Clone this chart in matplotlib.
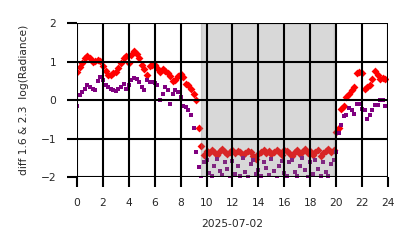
import numpy as np
import matplotlib
matplotlib.use('Agg')
import matplotlib.pyplot as plt

# sample times (hours on 2025-07-02), one every 12 minutes
hours = np.arange(0, 24, 0.2)

diff_red = [
    0.72, 0.87, 0.95, 1.08, 1.15, 1.08, 1.00, 1.02, 1.05, 1.02,
    0.88, 0.75, 0.64, 0.66, 0.70, 0.74, 0.82, 0.95, 1.10, 1.15,
    0.95, 1.18, 1.28, 1.20, 1.08, 0.92, 0.80, 0.65, 0.88, 0.90,
    0.90, 0.82, 0.74, 0.80, 0.76, 0.70, 0.62, 0.50, 0.52, 0.62,
    0.68, 0.60, 0.42, 0.38, 0.30, 0.15, 0.00, -0.72, -1.20, -1.42,
    -1.32, -1.38, -1.30, -1.36, -1.42, -1.33, -1.28, -1.35, -1.40, -1.34,
    -1.30, -1.38, -1.33, -1.36, -1.42, -1.38, -1.31, -1.36, -1.44, -1.52,
    -1.40, -1.35, -1.30, -1.38, -1.33, -1.41, -1.36, -1.29, -1.35, -1.42,
    -1.30, -1.33, -1.38, -1.45, -1.36, -1.30, -1.40, -1.34, -1.28, -1.38,
    -1.33, -1.42, -1.36, -1.30, -1.44, -1.38, -1.32, -1.28, -1.36, -1.30,
    -0.82, -0.72, -0.22, -0.15, 0.08, 0.15, 0.27, 0.33, 0.70, 0.74,
    0.70, 0.30, 0.35, 0.40, 0.55, 0.75, 0.65, 0.55, 0.57, 0.56,
]

diff_purple = [
    -0.16, 0.13, 0.20, 0.30, 0.40, 0.35, 0.30, 0.26, 0.50, 0.60,
    0.52, 0.40, 0.35, 0.30, 0.26, 0.24, 0.28, 0.35, 0.42, 0.30,
    0.38, 0.52, 0.58, 0.56, 0.48, 0.35, 0.26, 0.52, 0.48, 0.46,
    0.45, 0.38, 0.00, 0.17, 0.33, 0.26, -0.09, 0.17, 0.25, 0.22,
    0.09, -0.15, -0.18, -0.25, -0.40, -0.72, -1.34, -1.73, -2.05, -1.60,
    -1.55, -1.90, -1.98, -1.72, -1.52, -1.85, -1.95, -1.62, -1.80, -2.02,
    -1.58, -1.92, -1.70, -1.96, -1.50, -1.88, -2.00, -1.65, -1.55, -1.93,
    -1.82, -1.98, -1.60, -1.76, -1.95, -1.52, -1.85, -2.02, -1.70, -1.58,
    -1.90, -1.98, -1.62, -1.55, -1.88, -1.96, -1.72, -1.50, -1.82, -2.00,
    -1.60, -1.92, -1.55, -1.78, -1.97, -1.62, -1.86, -1.98, -1.66, -1.55,
    -1.35, -0.85, -0.65, -0.42, -0.38, -0.20, -0.26, -0.35, -0.10, -0.09,
    -0.22, -0.25, -0.48, -0.40, -0.25, -0.12, -0.12, 0.00, 0.00, -0.15,
]

night_start, night_end = 9.55, 19.85

fig = plt.figure(figsize=(4.14, 2.48), dpi=100)
ax = fig.add_axes([0.186, 0.286, 0.751, 0.621])

ax.scatter(hours, diff_red, marker='D', s=16, color='red', linewidths=0, zorder=1)
ax.scatter(hours, diff_purple, marker='s', s=6, color='purple', linewidths=0, zorder=1)
ax.axvspan(night_start, night_end, color='gray', alpha=0.3, zorder=1)

ax.set_xlim(0, 24)
ax.set_ylim(-2, 2)
ax.set_xticks(range(0, 25, 2))
ax.set_yticks([-2, -1, 0, 1, 2])
ax.grid(True, color='black', linewidth=1.5, zorder=3)
ax.set_axisbelow(False)
for s in ax.spines.values():
    s.set_visible(False)
ax.tick_params(length=7, width=1.5, color='black', labelsize=7.7,
               labelcolor='#262626', pad=8)
ax.set_xlabel('2025-07-02', fontsize=7.7, color='#262626', labelpad=8)
ax.set_ylabel('diff 1.6 & 2.3  log(Radiance)', fontsize=7.7, color='#262626', labelpad=8)

fig.savefig('out.png', dpi=100)
